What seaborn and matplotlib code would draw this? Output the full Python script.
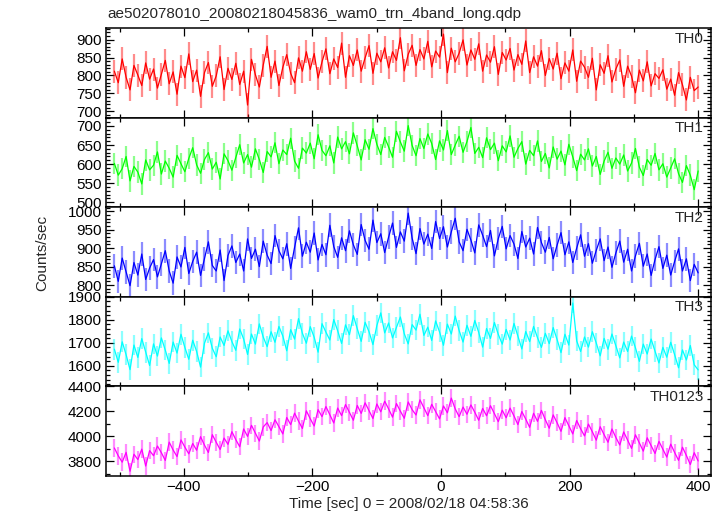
import numpy as np
import pandas as pd
import matplotlib
matplotlib.use("Agg")
import matplotlib.pyplot as plt
import seaborn as sns
from matplotlib.ticker import MultipleLocator

# time range of the light curve (sec from 2008/02/18 04:58:36)
t_start = -508
t_stop = 400

# count rates (counts/sec), one list per band
th0 = [812, 780, 846, 795, 760, 828, 801, 772, 835, 790,
       818, 765, 803, 842, 777, 810, 748, 826, 794, 860,
       783, 815, 742, 808, 836, 770, 799, 852, 761, 820,
       789, 834, 775, 812, 718, 845, 802, 768, 829, 881,
       795, 840, 772, 823, 858, 806, 780, 849, 812, 866,
       817, 861, 793, 838, 874, 805, 846, 822, 890, 795,
       855, 828, 871, 812, 849, 883, 806, 862, 838, 877,
       821, 866, 842, 905, 813, 859, 884, 828, 872, 846,
       895, 824, 868, 851, 915, 808, 876, 838, 862, 899,
       829, 871, 845, 888, 812, 857, 837, 880, 803, 864,
       843, 875, 815, 858, 831, 896, 808, 852, 826, 869,
       800, 847, 818, 862, 791, 835, 812, 871, 784, 840,
       823, 795, 848, 760, 830, 806, 855, 782, 818, 843,
       770, 826, 798, 752, 815, 785, 838, 771, 805, 792,
       816, 762, 790, 745, 808, 774, 732, 795, 758, 768]

th1 = [602, 571, 588, 620, 556, 594, 579, 548, 611, 585,
       597, 632, 574, 608, 589, 566, 623, 601, 580, 615,
       643, 598, 576, 612, 630, 587, 605, 561, 627, 609,
       584, 618, 651, 603, 625, 592, 640, 612, 578, 633,
       619, 656, 601, 637, 625, 668, 608, 589, 642, 629,
       655, 614, 677, 636, 622, 648, 603, 671, 640, 659,
       627, 682, 648, 611, 664, 639, 693, 652, 625, 670,
       645, 618, 686, 658, 634, 701, 649, 622, 667, 641,
       679, 654, 612, 661, 637, 688, 625, 650, 673, 631,
       659, 696, 628, 644, 617, 669, 638, 655, 609, 648,
       632, 674, 618, 641, 659, 600, 636, 622, 661, 607,
       628, 590, 645, 613, 634, 598, 652, 619, 583, 626,
       611, 640, 595, 620, 573, 608, 631, 589, 616, 600,
       624, 582, 603, 641, 592, 570, 612, 597, 628, 585,
       601, 566, 590, 614, 575, 552, 596, 571, 533, 582]

th2 = [852, 810, 873, 835, 798, 861, 827, 884, 815, 846,
       869, 822, 857, 893, 838, 805, 876, 849, 902, 831,
       864, 889, 826, 871, 917, 853, 838, 895, 812, 880,
       906, 861, 884, 838, 925, 872, 897, 850, 919, 881,
       858, 934, 893, 871, 912, 845, 902, 955, 878, 916,
       889, 941, 868, 910, 882, 962, 904, 875, 928, 893,
       947, 909, 883, 964, 921, 897, 976, 915, 939, 888,
       930, 968, 902, 944, 919, 995, 927, 885, 953, 911,
       938, 899, 972, 926, 958, 903, 944, 981, 917, 893,
       951, 922, 887, 963, 935, 904, 948, 879, 926, 959,
       898, 934, 911, 872, 945, 903, 927, 884, 956, 915,
       889, 929, 871, 908, 942, 882, 917, 861, 900, 936,
       878, 912, 859, 894, 925, 866, 903, 848, 887, 919,
       862, 897, 838, 879, 913, 851, 884, 826, 869, 904,
       845, 881, 827, 864, 898, 838, 871, 812, 856, 833]

th3 = [1672, 1615, 1704, 1648, 1583, 1690, 1636, 1718, 1659, 1601,
       1695, 1642, 1721, 1668, 1610, 1703, 1655, 1737, 1679, 1628,
       1711, 1662, 1594, 1698, 1743, 1676, 1639, 1725, 1688, 1752,
       1705, 1667, 1760, 1716, 1649, 1738, 1694, 1782, 1725, 1683,
       1748, 1702, 1771, 1729, 1665, 1757, 1716, 1805, 1741, 1698,
       1770, 1724, 1659, 1783, 1746, 1712, 1801, 1752, 1697, 1778,
       1735, 1818, 1761, 1706, 1789, 1748, 1692, 1775, 1830, 1743,
       1786, 1721, 1767, 1812, 1739, 1695, 1779, 1755, 1824, 1732,
       1768, 1710, 1795, 1747, 1689, 1781, 1738, 1816, 1753, 1703,
       1776, 1728, 1797, 1745, 1681, 1762, 1719, 1788, 1736, 1694,
       1758, 1712, 1784, 1729, 1673, 1749, 1705, 1771, 1722, 1680,
       1741, 1696, 1766, 1714, 1657, 1737, 1690, 1873, 1708, 1662,
       1725, 1681, 1748, 1699, 1643, 1719, 1672, 1738, 1687, 1634,
       1703, 1662, 1729, 1678, 1619, 1694, 1651, 1716, 1663, 1612,
       1680, 1637, 1702, 1648, 1591, 1669, 1625, 1688, 1604, 1582]

th0123 = [3905, 3842, 3791, 3870, 3718, 3855, 3812, 3896, 3760, 3884,
          3843, 3921, 3867, 3805, 3952, 3889, 3836, 3970, 3912, 3858,
          3941, 3887, 3996, 3928, 3869, 4012, 3951, 3893, 3985, 3934,
          4036, 3972, 3915, 4058, 3998, 4087, 4023, 3961, 4074, 4109,
          4045, 4132, 4076, 4018, 4150, 4093, 4185, 4121, 4062, 4204,
          4140, 4082, 4213, 4157, 4238, 4171, 4106, 4226, 4165, 4254,
          4190, 4128, 4247, 4183, 4268, 4204, 4142, 4259, 4196, 4281,
          4219, 4153, 4262, 4201, 4144, 4275, 4213, 4170, 4292, 4228,
          4165, 4256, 4197, 4139, 4243, 4188, 4306, 4219, 4157, 4234,
          4176, 4251, 4192, 4128, 4223, 4164, 4245, 4180, 4117, 4209,
          4148, 4226, 4162, 4093, 4198, 4137, 4071, 4184, 4119, 4207,
          4132, 4064, 4171, 4108, 4039, 4149, 4083, 4018, 4126, 4060,
          4002, 4097, 4035, 3968, 4076, 4012, 3951, 4058, 3990, 3929,
          4034, 3969, 3902, 4011, 3945, 3880, 3987, 3923, 3861, 3958,
          3894, 3832, 3936, 3869, 3806, 3911, 3845, 3772, 3867, 3801]

# estimated 1-sigma error bar per band
errors = [32, 28, 32, 45, 70]

band_names = ["TH0", "TH1", "TH2", "TH3", "TH0123"]
band_colors = ["#ff0000", "#00ff00", "#0000ff", "#00ffff", "#ff00ff"]
y_limits = [(683, 932), (487, 722), (768, 1011), (1510, 1900), (3680, 4400)]
y_major = [50, 50, 50, 100, 200]
y_minor = [10, 10, 10, 20, 100]

title = "ae502078010_20080218045836_wam0_trn_4band_long.qdp"
x_label = "Time [sec] 0 = 2008/02/18 04:58:36"
y_label = "Counts/sec"

sns.set_style("ticks")
plt.rcParams['font.family'] = ['Liberation Sans', 'DejaVu Sans']
fs = 11

t = np.linspace(t_start, t_stop, len(th0))
df = pd.DataFrame({"time": t, "TH0": th0, "TH1": th1, "TH2": th2,
                   "TH3": th3, "TH0123": th0123})

fig, axes = plt.subplots(5, 1, sharex=True, figsize=(7.24, 5.16), dpi=100)
fig.subplots_adjust(left=106 / 724, right=711 / 724, top=1 - 28 / 516,
                    bottom=1 - 476 / 516, hspace=0)

for i, ax in enumerate(axes):
    name = band_names[i]
    col = band_colors[i]
    ax.errorbar(df["time"], df[name], yerr=errors[i], fmt='none',
                ecolor=col, alpha=0.45, elinewidth=1.6)
    sns.lineplot(data=df, x="time", y=name, ax=ax, color=col, lw=0.9)
    ax.set_xlim(-521, 420)
    ax.set_ylim(*y_limits[i])
    ax.yaxis.set_major_locator(MultipleLocator(y_major[i]))
    ax.yaxis.set_minor_locator(MultipleLocator(y_minor[i]))
    ax.xaxis.set_major_locator(MultipleLocator(200))
    ax.xaxis.set_minor_locator(MultipleLocator(100))
    ax.tick_params(which='both', direction='in', top=True, right=True,
                   labelsize=fs, width=0.9, colors='black', pad=3)
    ax.tick_params(which='major', length=6)
    ax.tick_params(which='minor', length=3)
    ax.set_xlabel("")
    ax.set_ylabel("")
    for sp in ax.spines.values():
        sp.set_linewidth(1.1)
        sp.set_color('black')
    ax.text(0.988, 0.96, name, transform=ax.transAxes, ha='right', va='top',
            fontsize=fs)

axes[-1].set_xlabel(x_label, fontsize=fs, labelpad=2)
fig.text(107 / 724, 1 - 14 / 516, title, ha='left', va='center', fontsize=fs)
fig.text(42 / 724, 0.51, y_label, rotation=90, ha='center', va='center',
         fontsize=fs)

plt.savefig("out.png", dpi=100)
